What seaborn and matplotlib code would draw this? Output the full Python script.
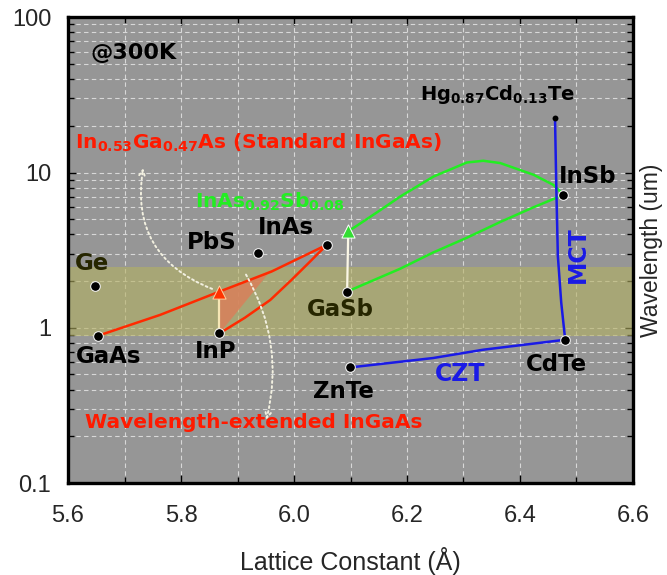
import matplotlib
matplotlib.use("Agg")
import matplotlib.pyplot as plt
import matplotlib.ticker as mticker
import seaborn as sns

# compounds: lattice constant (A) and cutoff wavelength (um) at 300K
compounds = ["GaAs", "Ge", "InP", "PbS", "InAs", "GaSb", "ZnTe", "CdTe", "InSb"]
lattice = [5.653, 5.648, 5.868, 5.936, 6.058, 6.094, 6.099, 6.480, 6.477]
cutoff = [0.888, 1.87, 0.92, 3.03, 3.42, 1.71, 0.555, 0.837, 7.18]

# alloy points
ingaas_pt = (5.868, 1.71)
inassb_pt = (6.096, 4.17)
hgcdte_pt = (6.462, 22.4)

# alloy curves
gaas_inas_x = [5.653, 5.763, 5.868, 5.960, 6.058]
gaas_inas_y = [0.888, 1.21, 1.71, 2.30, 3.42]
inp_inas_x = [5.868, 5.913, 5.958, 5.996, 6.028, 6.058]
inp_inas_y = [0.92, 1.16, 1.51, 2.04, 2.66, 3.42]
inassb_x = [6.096, 6.152, 6.188, 6.247, 6.306, 6.335, 6.365, 6.424, 6.459, 6.477]
inassb_y = [4.17, 5.7, 7.0, 9.42, 11.6, 11.9, 11.5, 9.67, 8.33, 7.18]
gasb_insb_x = [6.094, 6.188, 6.246, 6.306, 6.365, 6.423, 6.477]
gasb_insb_y = [1.71, 2.4, 3.05, 3.8, 4.8, 5.95, 7.18]
mct_x = [6.462, 6.464, 6.467, 6.473, 6.480]
mct_y = [22.4, 8.97, 2.9, 1.45, 0.837]
czt_x = [6.099, 6.246, 6.335, 6.480]
czt_y = [0.555, 0.638, 0.722, 0.837]
# extended InGaAs wedge
wedge_x = [5.868, 5.868, 5.960]
wedge_y = [0.92, 1.71, 2.36]

# SWIR band
band = (0.89, 2.47)

sns.set_style("ticks")
plt.rcParams["font.family"] = ["Liberation Sans", "DejaVu Sans"]
plt.rcParams["mathtext.fontset"] = "dejavusans"

fig = plt.figure(figsize=(6.67, 5.75), dpi=100)
ax = fig.add_axes([0.102, 0.160, 0.847, 0.810])
ax.set_facecolor("#969696")

ax.set_yscale("log")
ax.set_xlim(5.6, 6.6)
ax.set_ylim(0.1, 100)

ax.axhspan(*band, color="#b4b161", alpha=0.6, lw=0, zorder=1)

# lines
red = "#ff2a00"
green = "#22ee22"
blue = "#1a1ae6"
ax.fill(wedge_x, wedge_y, color="#d9805a", alpha=0.85, lw=0, zorder=2)
for xs, ys, c in [(gaas_inas_x, gaas_inas_y, red), (inp_inas_x, inp_inas_y, red),
                  (inassb_x, inassb_y, green), (gasb_insb_x, gasb_insb_y, green),
                  (mct_x, mct_y, blue), (czt_x, czt_y, blue)]:
    sns.lineplot(x=xs, y=ys, sort=False, estimator=None, color=c, lw=1.8, ax=ax, zorder=3)

ax.plot([lattice[2], ingaas_pt[0]], [cutoff[2], ingaas_pt[1]], color="#f5e6b5", lw=1.6, zorder=3)
ax.plot([lattice[5], inassb_pt[0]], [cutoff[5], inassb_pt[1]], color="#fbf7e6", lw=1.6, zorder=3)

# points
sns.scatterplot(x=lattice, y=cutoff, s=48, color="black", edgecolor="white", linewidth=0.7, ax=ax, zorder=5)
sns.scatterplot(x=[hgcdte_pt[0]], y=[hgcdte_pt[1]], s=18, color="black", linewidth=0, ax=ax, zorder=5)
ax.scatter(*ingaas_pt, marker="^", s=90, color="#ff3300", edgecolor="#ffd0a0", linewidth=0.7, zorder=6)
ax.scatter(*inassb_pt, marker="^", s=90, color="#33dd33", edgecolor="white", linewidth=0.7, zorder=6)

# dotted arrows
dot_props = dict(arrowstyle="->", color="#f2f0e0", lw=1.4, linestyle=(0, (1, 1.6)),
                 shrinkA=0, shrinkB=0)
ax.annotate("", xy=(5.733, 10.7), xytext=(5.855, 1.78),
            arrowprops=dict(dot_props, connectionstyle="arc3,rad=-0.4"), zorder=4)
ax.annotate("", xy=(5.951, 0.255), xytext=(5.915, 2.2),
            arrowprops=dict(dot_props, connectionstyle="arc3,rad=-0.2"), zorder=4)

# labels
bold = dict(family="DejaVu Sans", fontweight="bold", va="center", ha="left", zorder=7)
labels = [
    ("@300K", 5.639, 59.0, "black", 16),
    ("Ge", 5.612, 2.58, "#262600", 16.5),
    ("GaAs", 5.614, 0.650, "black", 16.5),
    ("InP", 5.825, 0.70, "black", 16.5),
    ("PbS", 5.811, 3.53, "black", 16.5),
    ("InAs", 5.936, 4.40, "black", 16.5),
    ("GaSb", 6.023, 1.31, "#262600", 16.5),
    ("ZnTe", 6.034, 0.387, "black", 16.5),
    ("CdTe", 6.411, 0.578, "black", 16.5),
    ("InSb", 6.469, 9.38, "black", 16.5),
    ("CZT", 6.25, 0.506, blue, 17),
    (r"Hg$_{\mathbf{0.87}}$Cd$_{\mathbf{0.13}}$Te", 6.223, 31.7, "black", 14),
    (r"In$_{\mathbf{0.53}}$Ga$_{\mathbf{0.47}}$As (Standard InGaAs)", 5.612, 15.5, "#ff1a00", 14.5),
    (r"InAs$_{\mathbf{0.92}}$Sb$_{\mathbf{0.08}}$", 5.825, 6.51, "#22ee22", 14.5),
    ("Wavelength-extended InGaAs", 5.630, 0.245, "#ff1a00", 14.5),
]
for txt, x, y, c, fs in labels:
    ax.text(x, y, txt, color=c, fontsize=fs, **bold)
ax.text(6.503, 2.95, "MCT", color=blue, fontsize=17, rotation=90,
        family="DejaVu Sans", fontweight="bold", ha="center", va="center", zorder=7)

# axes styling
ax.xaxis.set_major_locator(mticker.MultipleLocator(0.2))
ax.xaxis.set_minor_locator(mticker.MultipleLocator(0.1))
ax.xaxis.set_major_formatter(mticker.FormatStrFormatter("%.1f"))
ax.yaxis.set_major_locator(mticker.LogLocator(base=10))
ax.yaxis.set_minor_locator(mticker.LogLocator(base=10, subs=range(2, 10)))
ax.yaxis.set_major_formatter(mticker.FuncFormatter(lambda v, p: f"{v:g}"))
ax.yaxis.set_minor_formatter(mticker.NullFormatter())

ax.grid(which="both", color="#d8d8d8", ls=(0, (4, 3)), lw=0.8, zorder=0)
ax.set_axisbelow(True)
ax.tick_params(which="both", direction="in", top=True, right=True, color="black", width=1)
ax.tick_params(which="major", length=6, labelsize=17)
ax.tick_params(which="minor", length=4)
ax.tick_params(axis="x", pad=16)
ax.tick_params(axis="y", pad=12)
for sp in ax.spines.values():
    sp.set_linewidth(2.4)
    sp.set_color("black")

ax.set_xlabel("Lattice Constant (Å)", fontsize=18, labelpad=14)
ax.yaxis.set_label_position("right")
ax.set_ylabel("Wavelength (um)", fontsize=16.5, labelpad=5)

fig.savefig("out.png", dpi=100, facecolor="white")
